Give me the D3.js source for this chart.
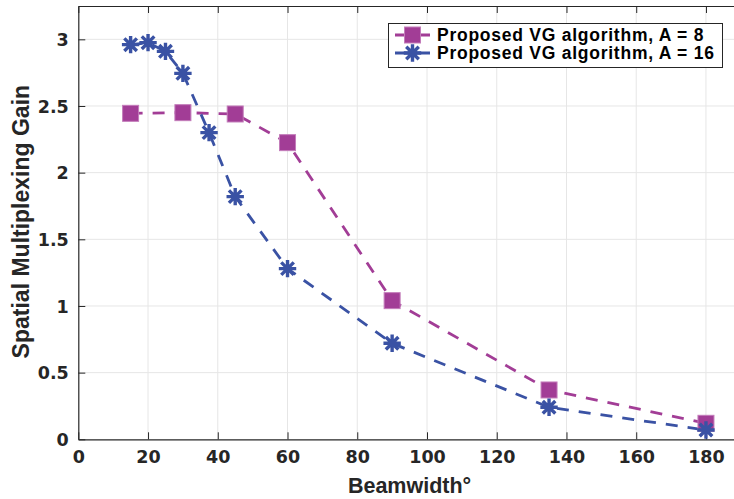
<!DOCTYPE html>
<html>
<head>
<meta charset="utf-8">
<script src="https://cdn.jsdelivr.net/npm/d3@7"></script>
<style>
  html, body { margin: 0; padding: 0; background: #fff; overflow: hidden; }
  svg { display: block; }
  text { font-family: "Liberation Sans", Arial, Helvetica, sans-serif; font-weight: bold; fill: #262626; }
</style>
</head>
<body>
<script>
// ---- Data ----
const xTicks = [0, 20, 40, 60, 80, 100, 120, 140, 160, 180];
const yTicks = [0, 0.5, 1, 1.5, 2, 2.5, 3];
const yTickLabels = ["0", "0.5", "1", "1.5", "2", "2.5", "3"];

const beamA8 = [15, 30, 45, 60, 90, 135, 180];
const gainA8 = [2.445, 2.45, 2.44, 2.225, 1.04, 0.37, 0.12];

const beamA16 = [15, 20, 25, 30, 37.5, 45, 60, 90, 135, 180];
const gainA16 = [2.96, 2.975, 2.91, 2.745, 2.30, 1.82, 1.28, 0.72, 0.24, 0.07];

const seriesNames = ["Proposed VG algorithm, A = 8", "Proposed VG algorithm, A = 16"];
const xLabel = "Beamwidth\u00B0";
const yLabel = "Spatial Multiplexing Gain";

// ---- Layout ----
const W = 734, H = 499;
const L = 78.3, T = 6, B = 439.3;
const xMax = 190;
const pxPerUnit = 3.487;
const R = L + xMax * pxPerUnit;

const colA8 = "#A23D96";
const colA16 = "#3A52A4";

const svg = d3.select("body").append("svg").attr("width", W).attr("height", H);

const x = d3.scaleLinear().domain([0, xMax]).range([L, R]);
const y = d3.scaleLinear().domain([0, 3.25]).range([B, T]);

// grid
const grid = svg.append("g");
grid.selectAll(".gx").data(xTicks.slice(1)).enter().append("line")
  .attr("x1", d => x(d)).attr("x2", d => x(d)).attr("y1", T).attr("y2", B)
  .attr("stroke", "#e6e6e6").attr("stroke-width", 1);
grid.selectAll(".gy").data(yTicks.slice(1)).enter().append("line")
  .attr("x1", L).attr("x2", R).attr("y1", d => y(d)).attr("y2", d => y(d))
  .attr("stroke", "#e6e6e6").attr("stroke-width", 1);

// axes
const axisColor = "#262626";
const xAxis = svg.append("g").attr("transform", `translate(0,${B})`)
  .call(d3.axisBottom(x).tickValues(xTicks).tickSizeInner(-7).tickSizeOuter(0).tickPadding(11).tickFormat(d3.format("d")));
const xAxisTop = svg.append("g").attr("transform", `translate(0,${T})`)
  .call(d3.axisTop(x).tickValues(xTicks).tickSizeInner(-7).tickSizeOuter(0).tickFormat(""));
const yAxis = svg.append("g").attr("transform", `translate(${L},0)`)
  .call(d3.axisLeft(y).tickValues(yTicks).tickSizeInner(-7).tickSizeOuter(0).tickPadding(9.5)
    .tickFormat((d, i) => yTickLabels[i]));

[xAxis, xAxisTop, yAxis].forEach(g => {
  g.select(".domain").attr("stroke", axisColor).attr("stroke-width", 1.2);
  g.selectAll(".tick line").attr("stroke", axisColor).attr("stroke-width", 1);
  g.selectAll(".tick text").attr("fill", axisColor).style("font-size", "17.5px")
    .style("font-family", "'DejaVu Sans', Verdana, sans-serif").style("font-weight", "bold");
});
xAxis.selectAll(".tick text").attr("dy", "0.71em");
yAxis.selectAll(".tick text").attr("dy", "0.36em");

// labels
svg.append("text").attr("x", (L + R) / 2).attr("y", 492.5).attr("text-anchor", "middle")
  .style("font-size", "21.5px").text(xLabel);
svg.append("text").attr("transform", `translate(29,${(T + B) / 2 - 1}) rotate(-90)`)
  .attr("text-anchor", "middle").style("font-size", "23px").text(yLabel);

// lines
const line = d3.line().x(d => x(d[0])).y(d => y(d[1])).curve(d3.curveLinear);
const dA8 = d3.zip(beamA8, gainA8);
const dA16 = d3.zip(beamA16, gainA16);

svg.append("path").datum(dA8).attr("d", line).attr("fill", "none")
  .attr("stroke", colA8).attr("stroke-width", 2.8).attr("stroke-dasharray", "12,10");
svg.append("path").datum(dA16).attr("d", line).attr("fill", "none")
  .attr("stroke", colA16).attr("stroke-width", 2.8).attr("stroke-dasharray", "12,10");

// markers
function square(g, cx, cy, s) {
  g.append("rect").attr("x", cx - s / 2).attr("y", cy - s / 2).attr("width", s).attr("height", s)
    .attr("fill", colA8).attr("stroke", "#c37cba").attr("stroke-width", 1);
}
function asterisk(g, cx, cy, r) {
  const d = r * 0.72;
  const p = `M${cx - r},${cy}L${cx + r},${cy}M${cx},${cy - r}L${cx},${cy + r}` +
            `M${cx - d},${cy - d}L${cx + d},${cy + d}M${cx - d},${cy + d}L${cx + d},${cy - d}`;
  g.append("path").attr("d", p).attr("stroke", colA16).attr("stroke-width", 3.4).attr("fill", "none");
}
const mk = svg.append("g");
dA8.forEach(d => square(mk, x(d[0]), y(d[1]), 16));
dA16.forEach(d => asterisk(mk, x(d[0]), y(d[1]), 8.7));

// legend
const lg = svg.append("g");
lg.append("rect").attr("x", 388.5).attr("y", 23.5).attr("width", 334).attr("height", 44)
  .attr("fill", "#fff").attr("stroke", axisColor).attr("stroke-width", 1);
const rows = [35, 53];
lg.append("line").attr("x1", 395).attr("x2", 430).attr("y1", rows[0]).attr("y2", rows[0])
  .attr("stroke", colA8).attr("stroke-width", 2.8);
square(lg, 412.5, rows[0], 16);
lg.append("line").attr("x1", 395).attr("x2", 430).attr("y1", rows[1]).attr("y2", rows[1])
  .attr("stroke", colA16).attr("stroke-width", 2.8);
asterisk(lg, 412.5, rows[1], 8.7);
seriesNames.forEach((s, i) => {
  lg.append("text").attr("x", 437).attr("y", rows[i] + 5.5).style("font-size", "17.5px")
    .style("letter-spacing", "0.75px").style("fill", "#000").text(s);
});
</script>
</body>
</html>
